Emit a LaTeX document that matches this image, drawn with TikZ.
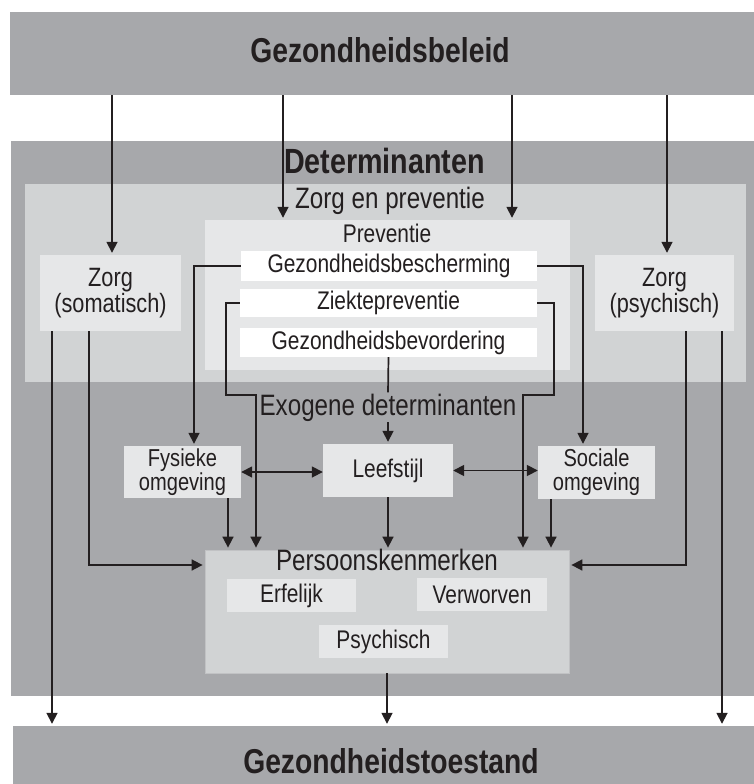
\documentclass[tikz,border=0pt]{standalone}
\usepackage{fontspec}
\setmainfont{Liberation Sans}[FakeStretch=0.82]
\usetikzlibrary{arrows.meta}
\definecolor{darkgrey}{HTML}{A7A8AB}
\definecolor{midgrey}{HTML}{D1D3D4}
\definecolor{lightgrey}{HTML}{E6E7E8}
\definecolor{ink}{HTML}{231F20}

\begin{document}
\begin{tikzpicture}[x=1pt,y=-1pt,
	Region/.style={fill=#1, inner sep=0pt},
	Box/.style={fill=#1, inner sep=0pt, align=center, text=ink, font=\fontsize{25.5}{23.5}\selectfont},
	Title/.style={anchor=base, inner sep=0pt, text=ink, font=\fontsize{29.5}{29.5}\selectfont},
	BigTitle/.style={anchor=base, inner sep=0pt, text=ink, font=\bfseries\fontsize{34.5}{34.5}\selectfont},
	Line/.style={draw=ink, line width=1.7pt},
	Arr/.style={Line, shorten >=2pt, -{Triangle[length=11pt,width=11pt]}},
	Dbl/.style={Line, {Triangle[length=11pt,width=11pt]}-{Triangle[length=11pt,width=11pt]}}
		]
	\useasboundingbox (0,0) rectangle (754,784);

	% regions
	\node[Region=darkgrey, minimum width=744, minimum height=83] (gb) at (382,53.5) {};
	\node[Region=darkgrey, minimum width=743, minimum height=555] (det) at (382.5,418.5) {};
	\node[Region=midgrey, minimum width=721, minimum height=198] (zep) at (385.5,283) {};
	\node[Region=lightgrey, minimum width=365, minimum height=150] (prev) at (387.5,295) {};
	\node[Region=darkgrey, minimum width=741, minimum height=69] (gt) at (383.5,760.5) {};

	% boxes
	\node[Box=white, minimum width=296, minimum height=30] (gbs) at (389,266) {Gezondheidsbescherming};
	\node[Box=white, minimum width=297, minimum height=28] (zp) at (388.5,303) {Ziektepreventie};
	\node[Box=white, minimum width=297, minimum height=29] (gbv) at (388.5,342.5) {Gezondheidsbevordering};
	\node[Box=lightgrey, minimum width=141, minimum height=76, font=\fontsize{26.5}{23}\selectfont] (zs) at (110.5,293) {Zorg\\(somatisch)};
	\node[Box=lightgrey, minimum width=139, minimum height=76, font=\fontsize{26.5}{23}\selectfont] (zpsy) at (664.5,293) {Zorg\\(psychisch)};
	\node[Box=lightgrey, minimum width=117, minimum height=52, font=\fontsize{24.5}{24}\selectfont] (fys) at (182.5,472) {Fysieke\\omgeving};
	\node[Box=lightgrey, minimum width=130, minimum height=53] (leef) at (388,470.5) {Leefstijl};
	\node[Box=lightgrey, minimum width=117, minimum height=53, font=\fontsize{24.5}{24}\selectfont] (soc) at (596.5,472.5) {Sociale\\omgeving};
	\node[Box=midgrey, draw=darkgrey!70, line width=0.8pt, minimum width=364, minimum height=123] (pk) at (387,611.5) {};
	\node[Box=lightgrey, minimum width=129, minimum height=33] (erf) at (291.5,595.5) {Erfelijk};
	\node[Box=lightgrey, minimum width=130, minimum height=33] (verw) at (482,594.5) {Verworven};
	\node[Box=lightgrey, minimum width=129, minimum height=33] (psy) at (383.5,641.5) {Psychisch};

	% titles
	\node[BigTitle] (gbt) at (380,63) {Gezondheidsbeleid};
	\node[BigTitle, font=\bfseries\fontsize{35}{35}\selectfont] (dett) at (384.5,173) {Determinanten};
	\node[Title] (zept) at (390,208) {Zorg en preventie};
	\node[Title, font=\fontsize{25.5}{25.5}\selectfont] (prevt) at (387,242) {Preventie};
	\node[Title, fill=darkgrey, inner sep=1pt] (exo) at (388,415) {Exogene determinanten};
	\node[Title] (pkt) at (387,570) {Persoonskenmerken};
	\node[BigTitle] (gtt) at (391,773) {Gezondheidstoestand};

	% beleid
	\draw[Arr] (gb.south -| 112,0) -- (zs.north -| 112,0);
	\draw[Arr] (gb.south -| 283,0) -- (prev.north -| 283,0);
	\draw[Arr] (gb.south -| 512,0) -- (prev.north -| 512,0);
	\draw[Arr] (gb.south -| 667,0) -- (zpsy.north -| 667,0);

	% preventie
	\draw[Arr] (gbs.west) -| (194,0 |- fys.north);
	\draw[Arr] (gbs.east) -| (583,0 |- soc.north);
	\draw[Arr] (zp.west) -| (226,395) -| (256,0 |- pk.north);
	\draw[Arr] (zp.east) -| (554,395) -| (523,0 |- pk.north);
	\draw[Line] (gbv.south) -- (exo.north);
	\draw[Arr] (exo.south) -- (leef.north);

	% exogeen
	\draw[Dbl] (fys.east) -- (fys.east -| leef.west);
	\draw[Dbl] (leef.east) -- (leef.east -| soc.west);
	\draw[Arr] (fys.south -| 228,0) -- (pk.north -| 228,0);
	\draw[Arr] (leef.south) -- (leef.south |- pk.north);
	\draw[Arr] (soc.south -| 551,0) -- (pk.north -| 551,0);

	% zorg
	\draw[Arr] (zs.south -| 52,0) -- (gt.north -| 52,0);
	\draw[Arr] (zs.south -| 89,0) |- (pk.west |- 0,565);
	\draw[Arr] (zpsy.south -| 686,0) |- (pk.east |- 0,565);
	\draw[Arr] (zpsy.south -| 722,0) -- (gt.north -| 722,0);
	\draw[Arr] (pk.south) -- (pk.south |- gt.north);
\end{tikzpicture}
\end{document}
